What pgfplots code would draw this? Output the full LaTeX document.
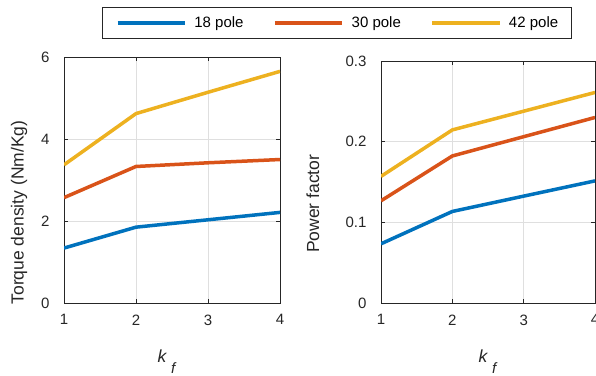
\documentclass[border=0pt]{standalone}
\usepackage{fontspec}
\setmainfont{Liberation Sans}
\usepackage{pgfplots}
\pgfplotsset{compat=1.18}
\definecolor{mblue}{rgb}{0,0.447,0.741}
\definecolor{mred}{rgb}{0.85,0.325,0.098}
\definecolor{myel}{rgb}{0.929,0.694,0.125}
\definecolor{axgray}{gray}{0.15}
\newcommand{\fs}{\fontsize{15bp}{17bp}\selectfont}
\newcommand{\fl}{\fontsize{17.5bp}{20bp}\selectfont}
\newcommand{\kf}{\textit{k}\hspace{4bp}\raisebox{-11bp}{\fontsize{15bp}{17bp}\selectfont\textit{f}}}
\pgfplotsset{
  mstyle/.style={
    scale only axis,
    anchor=south west,
    xmin=1, xmax=4,
    xtick={1,2,3,4},
    grid=major,
    major grid style={gray!25, line width=0.6bp},
    axis line style={axgray, line width=0.8bp},
    tick style={axgray, line width=0.8bp},
    major tick length=4bp,
    tick align=inside,
    /pgf/number format/assume math mode=true,
    tick label style={font=\fs, text=axgray},
    label style={font=\fl, text=axgray},
    every axis plot/.append style={line width=3.5bp},
    xticklabel style={yshift=-8bp},
    yticklabel style={xshift=-11bp},
  }
}
\begin{document}
\begin{tikzpicture}[x=1bp,y=1bp]
\useasboundingbox (0,0) rectangle (596,-375);
\begin{axis}[mstyle,
  at={(64bp,-303bp)}, width=216bp, height=246bp,
  ymin=0, ymax=6, ytick={0,2,4,6},
  ylabel={Torque density (Nm/Kg)},
  ylabel style={at={(axis description cs:-0.208,0.368)}, anchor=center},
  xlabel={\kf},
  xlabel style={at={(axis description cs:0.5,-0.24)}, anchor=base, xshift=-5bp},
  legend columns=3,
  legend style={at={(axis description cs:1.264,1.138)}, anchor=center,
    draw=axgray, line width=0.8bp, font=\fs, text=black,
    inner xsep=13bp, inner ysep=7bp,
    nodes={inner xsep=0bp},
    /tikz/every odd column/.append style={column sep=7.5bp},
    /tikz/every even column/.append style={column sep=29.6bp}},
  legend cell align=left,
  legend image code/.code={\draw[#1, line width=3.5bp] (0bp,0bp) -- (67.5bp,0bp);},
]
\addplot[mblue] coordinates {(1,1.34) (2,1.85) (3,2.03) (4,2.21)};
\addlegendentry{18 pole}
\addplot[mred] coordinates {(1,2.57) (2,3.33) (3,3.42) (4,3.50)};
\addlegendentry{30 pole}
\addplot[myel] coordinates {(1,3.37) (2,4.62) (3,5.14) (4,5.65)};
\addlegendentry{42 pole\hspace{12bp}}
\end{axis}
\begin{axis}[mstyle,
  at={(381bp,-303bp)}, width=214bp, height=242bp,
  ymin=0, ymax=0.3, ytick={0,0.1,0.2,0.3},
  yticklabel style={/pgf/number format/.cd, fixed, precision=1, zerofill=false},
  ylabel={Power factor},
  ylabel style={at={(axis description cs:-0.318,0.41)}, anchor=center},
  xlabel={\kf},
  xlabel style={at={(axis description cs:0.5,-0.244)}, anchor=base},
]
\addplot[mblue] coordinates {(1,0.0734) (2,0.1135) (3,0.1325) (4,0.1514)};
\addplot[mred] coordinates {(1,0.1267) (2,0.1823) (3,0.2062) (4,0.2300)};
\addplot[myel] coordinates {(1,0.1570) (2,0.2146) (3,0.2378) (4,0.2610)};
\end{axis}
\end{tikzpicture}
\end{document}
